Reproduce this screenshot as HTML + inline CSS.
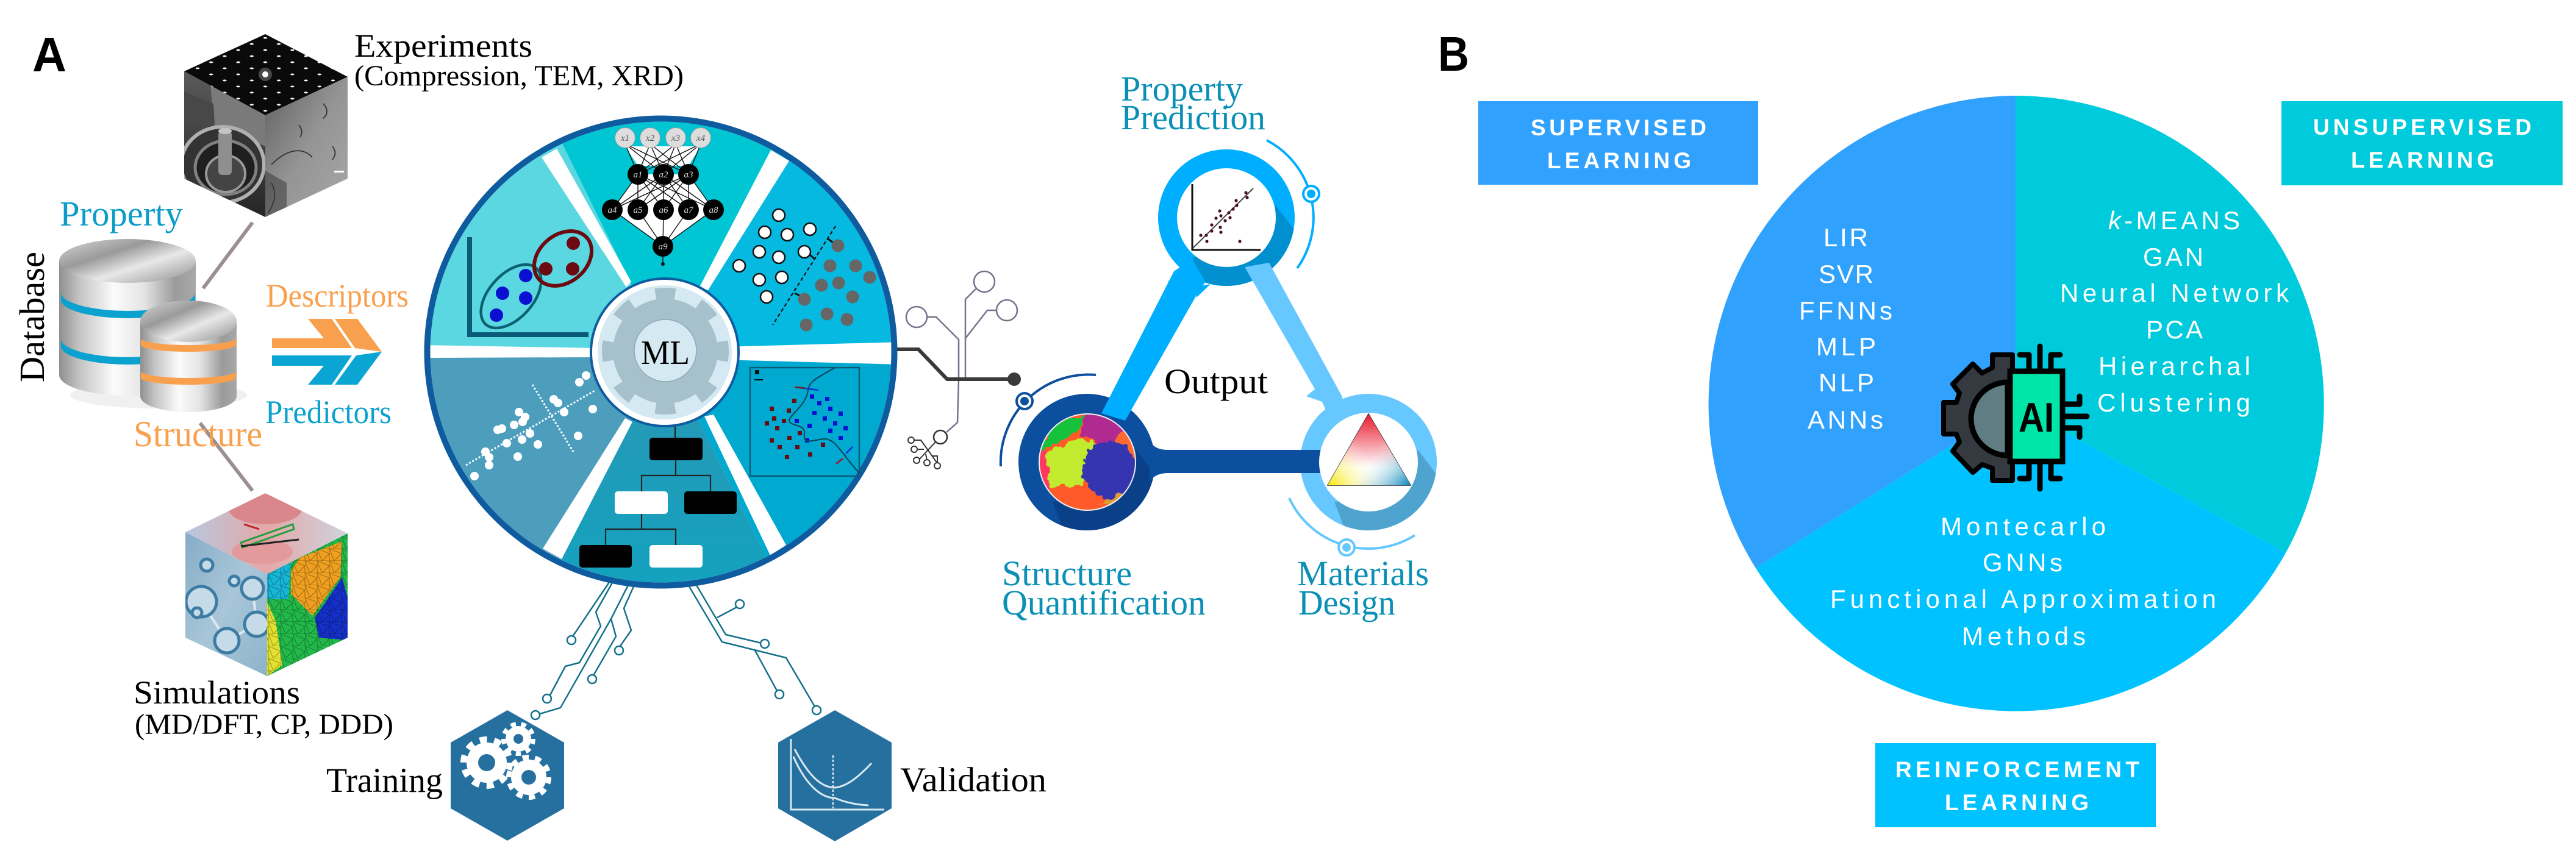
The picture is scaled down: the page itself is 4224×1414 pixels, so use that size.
<!DOCTYPE html>
<html><head><meta charset="utf-8"><title>ML diagram</title>
<style>html,body{margin:0;padding:0;background:#fff;width:4224px;height:1414px;overflow:hidden}svg{display:block}
.s{font-family:"Liberation Serif",serif}.b{font-family:"Liberation Sans",sans-serif;font-weight:bold}.p{font-family:"Liberation Sans",sans-serif;fill:#fff;font-size:42px}.l{font-family:"Liberation Sans",sans-serif;font-weight:bold;fill:#fff;font-size:37px}
.nn{font-family:"Liberation Serif",serif;font-style:italic;font-size:15px;fill:#ddd}.ci{fill:none;stroke:#13708a;stroke-width:2.5}.cc{fill:#fff;stroke:#13708a;stroke-width:2.5}.g{fill:none;stroke:#77708a;stroke-width:2.5}</style></head><body>
<svg xmlns="http://www.w3.org/2000/svg" width="4224" height="1414" viewBox="0 0 4224 1414">
<defs>
<clipPath id="wheel"><circle cx="1083.5" cy="577.5" r="378"/></clipPath>
<clipPath id="topf"><polygon points="435,56 302,117 435,189 570,126"/></clipPath>
<clipPath id="lf"><polygon points="302,117 435,189 435,356 302,293"/></clipPath>
<clipPath id="rf"><polygon points="435,189 570,126 570,293 435,356"/></clipPath>
<clipPath id="simr"><polygon points="438,942 570,875 570,1046 438,1109"/></clipPath>
<clipPath id="siml"><polygon points="304,873 438,942 438,1109 304,1046"/></clipPath>
<clipPath id="simt"><polygon points="435,809 304,873 438,942 570,875"/></clipPath>
<clipPath id="sq"><circle cx="1783" cy="758" r="80"/></clipPath>
<clipPath id="ringc"><circle r="112"/></clipPath>
<filter id="rough" x="-10%" y="-10%" width="120%" height="120%"><feTurbulence type="fractalNoise" baseFrequency=".08" numOctaves="2" seed="4"/><feDisplacementMap in="SourceGraphic" scale="14" xChannelSelector="R" yChannelSelector="G"/></filter>
<linearGradient id="cyl"><stop offset="0" stop-color="#8f8f8f"/><stop offset=".15" stop-color="#c4c4c4"/><stop offset=".4" stop-color="#fbfbfb"/><stop offset=".62" stop-color="#e4e4e4"/><stop offset=".85" stop-color="#9b9b9b"/><stop offset="1" stop-color="#a8a8a8"/></linearGradient>
<linearGradient id="cylt" x1="0" y1="0" x2="1" y2="1"><stop offset="0" stop-color="#d8d8d8"/><stop offset=".35" stop-color="#9a9a9a"/><stop offset=".6" stop-color="#e8e8e8"/><stop offset="1" stop-color="#8c8c8c"/></linearGradient>
<linearGradient id="expR" x1="0" y1="0" x2="1" y2="1"><stop offset="0" stop-color="#5e5e5e"/><stop offset=".5" stop-color="#949494"/><stop offset="1" stop-color="#a8a8a8"/></linearGradient>
<linearGradient id="expL" x1="0" y1="0" x2="0" y2="1"><stop offset="0" stop-color="#5a5a5a"/><stop offset="1" stop-color="#262626"/></linearGradient>
<linearGradient id="simL" x1="0" y1="0" x2="1" y2="1"><stop offset="0" stop-color="#86acc6"/><stop offset=".5" stop-color="#a8c6d8"/><stop offset="1" stop-color="#8db3ca"/></linearGradient>
<linearGradient id="simT" x1="0" y1="0" x2="1" y2="0"><stop offset="0" stop-color="#b8c8e0"/><stop offset=".5" stop-color="#e4a8a8"/><stop offset="1" stop-color="#cfd2de"/></linearGradient>
<linearGradient id="bot" x1="0" y1="0" x2="0" y2="1"><stop offset="0" stop-color="#2a97b4"/><stop offset="1" stop-color="#11a3c0"/></linearGradient>
<linearGradient id="tr1" x1=".5" y1="0" x2=".5" y2="1"><stop offset="0" stop-color="#e8192c"/><stop offset=".75" stop-color="#fff"/></linearGradient>
<linearGradient id="tr2" x1="0" y1="1" x2=".5" y2=".6"><stop offset="0" stop-color="#f8e800"/><stop offset="1" stop-color="#fff" stop-opacity="0"/></linearGradient>
<linearGradient id="tr3" x1="1" y1="1" x2=".5" y2=".6"><stop offset="0" stop-color="#0083b8"/><stop offset="1" stop-color="#fff" stop-opacity="0"/></linearGradient>
<pattern id="spots" width="12" height="12" patternUnits="userSpaceOnUse" patternTransform="matrix(1.85 -.83 1.85 .83 435 122)"><rect width="12" height="12" fill="#0a0a0a"/><circle cx="0" cy="0" r="1.2" fill="#fff"/><circle cx="12" cy="0" r="1.2" fill="#fff"/><circle cx="0" cy="12" r="1.2" fill="#fff"/><circle cx="12" cy="12" r="1.2" fill="#fff"/></pattern>
<pattern id="mesh" width="20" height="20" patternUnits="userSpaceOnUse"><path d="M0,0L20,8L8,20ZM20,8L20,20L8,20M0,0V20H8" fill="none" stroke="#000" stroke-opacity=".35" stroke-width="1"/></pattern>
</defs>
<rect width="4224" height="1414" fill="#fff"/>

<text class="b" x="53" y="117" font-size="80" textLength="56" lengthAdjust="spacingAndGlyphs">A</text>
<text class="b" x="2358" y="116" font-size="80" textLength="51" lengthAdjust="spacingAndGlyphs">B</text>

<!-- Experiments cube -->
<polygon points="435,56 302,117 435,189 570,126" fill="url(#spots)"/>
<g clip-path="url(#topf)"><circle cx="435" cy="122" r="5" fill="#fff"/><circle cx="435" cy="122" r="11" fill="#fff" opacity=".25"/></g>
<polygon points="302,117 435,189 435,356 302,293" fill="url(#expL)"/>
<g clip-path="url(#lf)">
<polygon points="345,135 435,185 435,240 350,205" fill="#7a7a7a"/>
<polygon points="302,150 350,170 352,205 302,190" fill="#484848"/>
<ellipse cx="365" cy="270" rx="68" ry="62" fill="#333" stroke="#b0b0b0" stroke-width="6"/>
<ellipse cx="370" cy="275" rx="50" ry="44" fill="#1f1f1f" stroke="#808080" stroke-width="5"/>
<ellipse cx="370" cy="285" rx="32" ry="30" fill="#444" stroke="#999" stroke-width="4"/>
<rect x="358" y="215" width="22" height="72" rx="6" fill="#8f8f8f"/>
<ellipse cx="369" cy="215" rx="11" ry="5" fill="#c4c4c4"/>
</g>
<polygon points="435,189 570,126 570,293 435,356" fill="url(#expR)"/>
<g clip-path="url(#rf)" fill="none" stroke="#333" stroke-width="1.8">
<path d="M445,270C470,245 495,240 512,258"/>
<path d="M530,170c8,8 8,18 0,24M545,240c6,8 6,14 0,22M490,205c6,8 6,14 2,20M445,300c8,14 8,30 -6,50"/>
<polygon points="435,280 470,300 470,340 435,356" fill="#333" stroke="none" opacity=".5"/>
<rect x="548" y="280" width="16" height="3" fill="#fff" stroke="none"/>
</g>
<text class="s" x="581" y="93" font-size="54" textLength="292" lengthAdjust="spacingAndGlyphs">Experiments</text>
<text class="s" x="581" y="140" font-size="48" textLength="540" lengthAdjust="spacingAndGlyphs">(Compression, TEM, XRD)</text>
<line x1="414" y1="365" x2="333" y2="473" stroke="#9b8f92" stroke-width="6"/>
<line x1="328" y1="694" x2="414" y2="805" stroke="#9b8f92" stroke-width="6"/>

<!-- Database -->
<ellipse cx="260" cy="648" rx="145" ry="22" fill="#bbb" opacity=".22"/>
<path d="M97,428V615A112,34 0 0 0 321,615V428Z" fill="url(#cyl)"/>
<path d="M100,480A110,30 0 0 0 320,480V492A110,30 0 0 1 100,492Z" fill="#0ba2cf"/>
<path d="M100,556A110,30 0 0 0 320,556V568A110,30 0 0 1 100,568Z" fill="#0ba2cf"/>
<ellipse cx="209" cy="428" rx="112" ry="36" fill="url(#cylt)"/>
<path d="M230,527V650A79,26 0 0 0 388,650V527Z" fill="url(#cyl)"/>
<path d="M231,556A79,12 0 0 0 387,556V567A79,12 0 0 1 231,567Z" fill="#f9a04e"/>
<path d="M231,610A79,12 0 0 0 387,610V621A79,12 0 0 1 231,621Z" fill="#f9a04e"/>
<ellipse cx="309" cy="527" rx="79" ry="34" fill="url(#cylt)"/>
<text class="s" x="98" y="370" font-size="58" fill="#0b9cc8" textLength="202" lengthAdjust="spacingAndGlyphs">Property</text>
<text class="s" transform="translate(72,627) rotate(-90)" font-size="58" textLength="214" lengthAdjust="spacingAndGlyphs">Database</text>
<text class="s" x="219" y="732" font-size="60" fill="#f9a04e" textLength="211" lengthAdjust="spacingAndGlyphs">Structure</text>

<!-- Arrows -->
<polygon points="505,523 544,523 577,571 446,571 446,555 531,555" fill="#f9a04e"/>
<polygon points="549,523 586,523 626,577 582,571" fill="#f9a04e"/>
<polygon points="446,583 577,583 544,631 505,631 531,600 446,600" fill="#0ba5d3"/>
<polygon points="584,583 626,577 586,631 549,631" fill="#0ba5d3"/>
<text class="s" x="436" y="503" font-size="54" fill="#f9a04e" textLength="234" lengthAdjust="spacingAndGlyphs">Descriptors</text>
<text class="s" x="435" y="694" font-size="54" fill="#0ba2cf" textLength="207" lengthAdjust="spacingAndGlyphs">Predictors</text>

<!-- Simulation cube -->
<polygon points="435,809 304,873 438,942 570,875" fill="url(#simT)"/>
<g clip-path="url(#simt)">
<ellipse cx="435" cy="835" rx="60" ry="25" fill="#d9878a"/>
<ellipse cx="430" cy="905" rx="50" ry="20" fill="#e29a9a"/>
<polygon points="395,890 480,860 482,868 398,898" fill="none" stroke="#20a040" stroke-width="3"/>
<line x1="395" y1="896" x2="490" y2="885" stroke="#222" stroke-width="3"/>
<line x1="400" y1="860" x2="425" y2="868" stroke="#c02020" stroke-width="3"/>
</g>
<polygon points="304,873 438,942 438,1109 304,1046" fill="url(#simL)"/>
<g clip-path="url(#siml)" fill="#c5dbe8" stroke="#3d7ca3" stroke-width="5">
<line x1="330" y1="987" x2="372" y2="1051" stroke-width="4" stroke="#dbe8f0"/><line x1="372" y1="1051" x2="421" y2="1024" stroke-width="4" stroke="#dbe8f0"/><line x1="421" y1="1024" x2="414" y2="965" stroke-width="4" stroke="#dbe8f0"/>
<circle cx="330" cy="987" r="25"/><circle cx="372" cy="1051" r="20"/><circle cx="414" cy="965" r="18"/><circle cx="421" cy="1024" r="20"/><circle cx="339" cy="927" r="10"/><circle cx="384" cy="953" r="8"/><circle cx="323" cy="1005" r="8"/>
</g>
<polygon points="438,942 570,875 570,1046 438,1109" fill="#22b84a"/>
<g clip-path="url(#simr)">
<polygon points="438,942 477,915 473,983 438,983" fill="#17b6d6"/>
<polygon points="477,938 491,915 561,888 558,947 512,1010 477,974" fill="#f0a020"/>
<polygon points="561,947 516,1014 523,1046 570,1050 570,980" fill="#1530c8"/>
<polygon points="438,987 452,1019 463,1091 438,1109" fill="#e4e030"/>
<rect x="438" y="875" width="132" height="234" fill="url(#mesh)"/>
</g>
<text class="s" x="219" y="1154" font-size="54" textLength="273" lengthAdjust="spacingAndGlyphs">Simulations</text>
<text class="s" x="221" y="1204" font-size="48" textLength="424" lengthAdjust="spacingAndGlyphs">(MD/DFT, CP, DDD)</text>

<!-- Wheel -->
<circle cx="1083.5" cy="577.5" r="388" fill="#0f5b9f"/>
<circle cx="1083.5" cy="577.5" r="378" fill="#fff"/>
<g clip-path="url(#wheel)">
<polygon points="1090,578 680,577 680,150 880,150" fill="#5ad7e0"/>
<polygon points="1090,578 880,150 1320,150" fill="#00c6d4"/>
<polygon points="1090,578 1320,150 1490,150 1490,580" fill="#05b9e0"/>
<polygon points="1090,578 1490,580 1490,1000 1300,1000" fill="#00a9cf"/>
<polygon points="1090,578 1300,1000 880,1000" fill="url(#bot)"/>
<polygon points="1090,578 880,1000 680,1000 680,577" fill="#4d9dbd"/>
<polygon points="690,566 690,587 980,586 980,571" fill="#fff"/>
<polygon points="888,258 913,244 1035,462 1027,471" fill="#fff"/>
<polygon points="1264,246 1294,264 1161,476 1147,471" fill="#fff"/>
<polygon points="1180,569 1480,561 1480,598 1180,590" fill="#fff"/>
<polygon points="1155,683 1170,680 1289,894 1263,911" fill="#fff"/>
<polygon points="1025,686 1037,692 921,917 890,900" fill="#fff"/>
</g>

<!-- UL slice -->
<path d="M770,389V549H965" fill="none" stroke="#0a5a78" stroke-width="8"/>
<ellipse cx="838" cy="486" rx="62" ry="36" transform="rotate(-48 838 486)" fill="none" stroke="#0a6170" stroke-width="4.5"/>
<ellipse cx="923" cy="424" rx="52" ry="39" transform="rotate(-40 923 424)" fill="none" stroke="#6b0a10" stroke-width="6"/>
<g fill="#0a0fd0"><circle cx="862" cy="452" r="11"/><circle cx="824" cy="481" r="11"/><circle cx="862" cy="489" r="11"/><circle cx="814" cy="517" r="11"/></g>
<g fill="#6b0a10"><circle cx="940" cy="399" r="11"/><circle cx="895" cy="441" r="11"/><circle cx="939" cy="441" r="11"/></g>

<!-- NN -->
<polygon points="1025,240 1149,240 1129,272 1046,272" fill="#fff"/>
<polygon points="1046,286 1129,286 1170,344 1004,344" fill="#fff"/>
<polygon points="1004,344 1170,344 1087,404" fill="#fff"/>
<g stroke="#111" stroke-width="1.4">
<path d="M1025,236L1046,286M1025,236L1088,286M1025,236L1129,286M1066,236L1046,286M1066,236L1088,286M1066,236L1129,286M1108,236L1046,286M1108,236L1088,286M1108,236L1129,286M1149,236L1046,286M1149,236L1088,286M1149,236L1129,286"/>
<path d="M1046,286L1004,344M1046,286L1046,344M1046,286L1088,344M1046,286L1129,344M1046,286L1170,344M1088,286L1004,344M1088,286L1046,344M1088,286L1088,344M1088,286L1129,344M1088,286L1170,344M1129,286L1004,344M1129,286L1046,344M1129,286L1088,344M1129,286L1129,344M1129,286L1170,344"/>
<path d="M1004,344L1087,404M1046,344L1087,404M1088,344L1087,404M1129,344L1087,404M1170,344L1087,404M1087,404V436"/>
</g>
<circle cx="1087" cy="433" r="3" fill="#111"/>
<g fill="#ddd" stroke="#999" stroke-width="1"><circle cx="1025" cy="226" r="16.5"/><circle cx="1066" cy="226" r="16.5"/><circle cx="1108" cy="226" r="16.5"/><circle cx="1149" cy="226" r="16.5"/></g>
<g><circle cx="1046" cy="286" r="17"/><circle cx="1088" cy="286" r="17"/><circle cx="1129" cy="286" r="17"/><circle cx="1004" cy="344" r="17"/><circle cx="1046" cy="344" r="17"/><circle cx="1088" cy="344" r="17"/><circle cx="1129" cy="344" r="17"/><circle cx="1170" cy="344" r="17"/><circle cx="1087" cy="404" r="17"/></g>
<g class="nn" text-anchor="middle" style="fill:#555"><text x="1025" y="231">x1</text><text x="1066" y="231">x2</text><text x="1108" y="231">x3</text><text x="1149" y="231">x4</text></g>
<g class="nn" text-anchor="middle"><text x="1046" y="291">a1</text><text x="1088" y="291">a2</text><text x="1129" y="291">a3</text><text x="1004" y="349">a4</text><text x="1046" y="349">a5</text><text x="1088" y="349">a6</text><text x="1129" y="349">a7</text><text x="1170" y="349">a8</text><text x="1087" y="409">a9</text></g>

<!-- UR slice -->
<line x1="1370" y1="371" x2="1267" y2="533" stroke="#111" stroke-width="2.2" stroke-dasharray="6 4"/>
<path d="M1358,392l8,6M1327,417l9,8M1303,481l9,4" stroke="#111" stroke-width="3"/>
<g fill="#fff" stroke="#111" stroke-width="2.5"><circle cx="1277" cy="353" r="10"/><circle cx="1254" cy="381" r="10"/><circle cx="1291" cy="385" r="10"/><circle cx="1328" cy="376" r="10"/><circle cx="1245" cy="413" r="10"/><circle cx="1277" cy="422" r="10"/><circle cx="1319" cy="413" r="10"/><circle cx="1212" cy="436" r="10"/><circle cx="1245" cy="459" r="10"/><circle cx="1282" cy="455" r="10"/><circle cx="1257" cy="487" r="10"/></g>
<g fill="#666"><circle cx="1374" cy="403" r="10.5"/><circle cx="1361" cy="436" r="10.5"/><circle cx="1403" cy="436" r="10.5"/><circle cx="1426" cy="455" r="10.5"/><circle cx="1347" cy="468" r="10.5"/><circle cx="1375" cy="464" r="10.5"/><circle cx="1398" cy="487" r="10.5"/><circle cx="1319" cy="491" r="10.5"/><circle cx="1356" cy="515" r="10.5"/><circle cx="1389" cy="524" r="10.5"/><circle cx="1322" cy="533" r="10.5"/></g>

<!-- LR slice -->
<rect x="1230" y="603" width="179" height="178" fill="none" stroke="#0a5c7a" stroke-width="2.5"/>
<rect x="1238" y="607" width="7" height="7" fill="#111"/><line x1="1237" y1="623" x2="1251" y2="623" stroke="#111" stroke-width="2"/>
<g fill="#6b0a10"><rect x="1299" y="654" width="7" height="7"/><rect x="1262" y="667" width="7" height="7"/><rect x="1290" y="670" width="7" height="7"/><rect x="1266" y="683" width="7" height="7"/><rect x="1282" y="687" width="7" height="7"/><rect x="1254" y="691" width="7" height="7"/><rect x="1271" y="699" width="7" height="7"/><rect x="1308" y="707" width="7" height="7"/><rect x="1291" y="715" width="7" height="7"/><rect x="1262" y="719" width="7" height="7"/><rect x="1275" y="730" width="7" height="7"/><rect x="1304" y="730" width="7" height="7"/><rect x="1346" y="726" width="7" height="7"/><rect x="1325" y="742" width="7" height="7"/><rect x="1287" y="746" width="7" height="7"/></g>
<g fill="#0a0fd0"><rect x="1328" y="647" width="7" height="7"/><rect x="1340" y="658" width="7" height="7"/><rect x="1353" y="651" width="7" height="7"/><rect x="1358" y="667" width="7" height="7"/><rect x="1332" y="674" width="7" height="7"/><rect x="1375" y="675" width="7" height="7"/><rect x="1349" y="683" width="7" height="7"/><rect x="1303" y="687" width="7" height="7"/><rect x="1366" y="691" width="7" height="7"/><rect x="1324" y="695" width="7" height="7"/><rect x="1383" y="699" width="7" height="7"/><rect x="1358" y="703" width="7" height="7"/><rect x="1375" y="715" width="7" height="7"/><rect x="1320" y="719" width="7" height="7"/></g>
<path d="M1369,603C1340,620 1327,625 1325,640C1322,665 1295,680 1294,690C1296,700 1322,695 1319,712C1316,730 1335,722 1350,720C1370,718 1380,745 1409,776" fill="none" stroke="#0a4a60" stroke-width="2.2"/>
<path d="M1304,635l16,2" stroke="#7a1020" stroke-width="2.5"/><path d="M1320,637l22,3" stroke="#1030d0" stroke-width="2.5"/>
<path d="M1398,733l-11,11" stroke="#1030d0" stroke-width="2.5"/><path d="M1382,752l-11,9" stroke="#a01020" stroke-width="2.5"/>

<!-- Bottom slice flowchart -->
<g fill="none" stroke="#222" stroke-width="2.2"><path d="M1107,698V718M1108,755V780M1052,806V780H1165V806M1052,843V868M993,894V868H1108V894"/></g>
<rect x="1065" y="718" width="87" height="37" rx="5" fill="#000"/>
<rect x="1008" y="806" width="87" height="37" rx="5" fill="#fff"/>
<rect x="1122" y="806" width="86" height="37" rx="5" fill="#000"/>
<rect x="950" y="894" width="86" height="37" rx="5" fill="#000"/>
<rect x="1065" y="894" width="87" height="37" rx="5" fill="#fff"/>

<!-- LL slice -->
<path d="M764,763L975,641M873,631L940,741" stroke="#fff" stroke-width="3" stroke-dasharray="3 3" fill="none"/>
<g fill="#fff"><circle cx="961" cy="616" r="7"/><circle cx="950" cy="627" r="7"/><circle cx="908" cy="655" r="7"/><circle cx="915" cy="661" r="7"/><circle cx="972" cy="671" r="7"/><circle cx="925" cy="676" r="7"/><circle cx="851" cy="676" r="7"/><circle cx="861" cy="684" r="7"/><circle cx="857" cy="692" r="7"/><circle cx="843" cy="697" r="7"/><circle cx="823" cy="703" r="7"/><circle cx="816" cy="705" r="7"/><circle cx="869" cy="711" r="7"/><circle cx="831" cy="727" r="7"/><circle cx="856" cy="721" r="7"/><circle cx="882" cy="729" r="7"/><circle cx="948" cy="715" r="7"/><circle cx="796" cy="741" r="7"/><circle cx="802" cy="750" r="7"/><circle cx="849" cy="749" r="7"/><circle cx="802" cy="763" r="7"/><circle cx="778" cy="781" r="7"/></g>

<!-- Hub -->
<circle cx="1090" cy="578" r="121" fill="#fff" stroke="#0f5b9f" stroke-width="4"/>
<circle cx="1090" cy="578" r="110" fill="#d4e9f2"/>
<circle cx="1091" cy="576" r="86" fill="#a6c1cc"/>
<circle cx="1091" cy="576" r="94" fill="none" stroke="#a6c1cc" stroke-width="20" stroke-dasharray="32 41.8" stroke-dashoffset="16"/>
<circle cx="1091" cy="575" r="51" fill="#d4e9f2" stroke="#8fa9b4" stroke-width="1.5"/>
<text class="s" x="1051" y="597" font-size="56" textLength="80" lengthAdjust="spacingAndGlyphs">ML</text>

<!-- Right connector -->
<path d="M1583,622V491L1600,474M1583,555L1619,509H1634M1572,622V557L1535,520H1520M1572,622L1570,693L1552,709" class="g"/>
<g fill="#fff" stroke="#77708a" stroke-width="2.5"><circle cx="1614" cy="462" r="17"/><circle cx="1651" cy="509" r="17"/><circle cx="1503" cy="520" r="17"/></g>
<circle cx="1542" cy="717" r="11" fill="#fff" stroke="#333" stroke-width="2.5"/>
<path d="M1535,724L1506,755M1499,722H1510L1537,760M1503,737H1515M1518,745L1520,755M1528,748H1537V760" fill="none" stroke="#333" stroke-width="2"/>
<g fill="#fff" stroke="#333" stroke-width="2"><circle cx="1494" cy="722" r="5"/><circle cx="1499" cy="737" r="5"/><circle cx="1503" cy="755" r="5"/><circle cx="1520" cy="759" r="5"/><circle cx="1537" cy="764" r="5"/></g>
<path d="M1471,573H1506L1553,622H1661" fill="none" stroke="#3a3a3a" stroke-width="6"/>
<circle cx="1663" cy="622" r="11" fill="#3a3a3a"/>

<!-- Output triangle -->
<g transform="translate(1782,758)"><circle r="112" fill="#0b4f9e"/><g clip-path="url(#ringc)"><polygon points="81,-20 129,43 49,133 -34,123 -56,65 0,63" fill="#0a4088"/></g></g>
<g transform="translate(2011,357)"><circle r="112" fill="#00aeff"/><g clip-path="url(#ringc)"><polygon points="81,-20 129,43 49,133 -34,123 -56,65 0,63" fill="#0090d0"/></g></g>
<g transform="translate(2244,758)"><circle r="112" fill="#66c8ff"/><g clip-path="url(#ringc)"><polygon points="81,-20 129,43 49,133 -34,123 -56,65 0,63" fill="#4fa3cf"/></g></g>
<polygon points="1806,678 1925,445 1955,425 1977,463 1970,470 1845,690" fill="#00aeff"/>
<polygon points="2041,438 2081,431 2200,649 2212,682 2182,692 2168,659" fill="#66c8ff"/>
<path d="M1915,462L1934,449L1940,470Z M1962,470L1985,466L1962,488Z" fill="#00aeff"/>
<path d="M2142,650L2168,659L2160,635Z" fill="#66c8ff"/>
<path d="M1885,722Q1892,738 1915,738H1885ZM1885,792Q1892,776 1915,776H1885Z" fill="#0b4f9e"/>
<rect x="1885" y="738" width="285" height="38" fill="#0b4f9e"/>
<!-- images -->
<circle cx="2011" cy="357" r="81" fill="#fff"/>
<circle cx="2244" cy="758" r="81" fill="#fff"/>
<circle cx="1783" cy="758" r="80" fill="#ff5a2a"/>
<g clip-path="url(#sq)"><g filter="url(#rough)">
<polygon points="1704,736 1724,695 1781,680 1765,709 1709,740" fill="#16c23a"/>
<polygon points="1781,676 1840,685 1862,718 1806,731 1770,713" fill="#b02a90"/>
<polygon points="1840,700 1870,720 1860,745 1825,730" fill="#ff6a30"/>
<polygon points="1709,745 1770,718 1804,731 1781,762 1776,798 1735,798 1722,803" fill="#c2ea2e"/>
<polygon points="1695,740 1714,740 1722,803 1695,800" fill="#ff3860"/>
<ellipse cx="1819" cy="771" rx="44" ry="47" fill="#3534b0"/>
<polygon points="1806,825 1846,805 1836,835" fill="#e09a30"/>
</g></g>
<circle cx="1783" cy="758" r="79" fill="none" stroke="#e8eef4" stroke-width="2"/>
<!-- chart -->
<path d="M1955,302V410H2067" fill="none" stroke="#111" stroke-width="3"/>
<line x1="1956" y1="407" x2="2055" y2="309" stroke="#444" stroke-width="2"/>
<g fill="#4a1020"><circle cx="1969" cy="386" r="2.6"/><circle cx="1978" cy="386" r="2.6"/><circle cx="1979" cy="396" r="2.6"/><circle cx="1987" cy="369" r="2.6"/><circle cx="1987" cy="379" r="2.6"/><circle cx="1994" cy="358" r="2.6"/><circle cx="2000" cy="346" r="2.6"/><circle cx="2002" cy="354" r="2.6"/><circle cx="2001" cy="373" r="2.6"/><circle cx="2002" cy="381" r="2.6"/><circle cx="2009" cy="362" r="2.6"/><circle cx="2017" cy="357" r="2.6"/><circle cx="2015" cy="349" r="2.6"/><circle cx="2022" cy="343" r="2.6"/><circle cx="2028" cy="337" r="2.6"/><circle cx="2027" cy="329" r="2.6"/><circle cx="2043" cy="316" r="2.6"/><circle cx="2045" cy="324" r="2.6"/><circle cx="2033" cy="396" r="2.6"/></g>
<!-- triangle -->
<polygon points="2244,679 2177,796 2313,796" fill="#fff" stroke="#222" stroke-width="1.5"/>
<polygon points="2244,679 2177,796 2313,796" fill="url(#tr1)"/>
<polygon points="2244,679 2177,796 2313,796" fill="url(#tr2)"/>
<polygon points="2244,679 2177,796 2313,796" fill="url(#tr3)"/>
<!-- arcs -->
<path d="M2077,230A143,143 0 0 1 2127,440" fill="none" stroke="#00aeff" stroke-width="4"/>
<circle cx="2150" cy="318" r="13" fill="#fff" stroke="#00aeff" stroke-width="4"/><circle cx="2150" cy="318" r="7" fill="#00aeff"/>
<path d="M1797,615A144,144 0 0 0 1641,765" fill="none" stroke="#0b4f9e" stroke-width="4"/>
<circle cx="1680" cy="658" r="13" fill="#fff" stroke="#0b4f9e" stroke-width="4"/><circle cx="1680" cy="658" r="7" fill="#0b4f9e"/>
<path d="M2114,817A143,143 0 0 0 2320,878" fill="none" stroke="#66c8ff" stroke-width="4"/>
<circle cx="2208" cy="898" r="13" fill="#fff" stroke="#66c8ff" stroke-width="4"/><circle cx="2208" cy="898" r="7" fill="#66c8ff"/>

<text class="s" x="1909" y="645" font-size="58" textLength="170" lengthAdjust="spacingAndGlyphs">Output</text>
<g class="s" fill="#0a8fb5" font-size="58">
<text x="1838" y="165" textLength="200" lengthAdjust="spacingAndGlyphs">Property</text>
<text x="1838" y="212" textLength="237" lengthAdjust="spacingAndGlyphs">Prediction</text>
<text x="1643" y="960" textLength="213" lengthAdjust="spacingAndGlyphs">Structure</text>
<text x="1643" y="1008" textLength="334" lengthAdjust="spacingAndGlyphs">Quantification</text>
<text x="2127" y="960" textLength="216" lengthAdjust="spacingAndGlyphs">Materials</text>
<text x="2129" y="1008" textLength="159" lengthAdjust="spacingAndGlyphs">Design</text>
</g>

<!-- Circuit lines -->
<g class="ci">
<path d="M999,955L939,1044"/><path d="M1004,956L977,1004L985,1027L950,1087L927,1093L901,1142"/><path d="M1030,960L1002,1015L919,1161L885,1171"/><path d="M1002,1015L1010,1044L973,1108"/><path d="M1039,962L1023,998L1035,1034L1016,1061"/>
<path d="M1130,962L1184,1053L1289,1079L1336,1159"/><path d="M1142,960L1190,1041L1249,1055"/><path d="M1176,1013L1208,996"/><path d="M1237,1065L1274,1133"/>
</g>
<g class="cc"><circle cx="937" cy="1050" r="7"/><circle cx="897" cy="1146" r="7"/><circle cx="878" cy="1173" r="7"/><circle cx="971" cy="1114" r="7"/><circle cx="1015" cy="1067" r="7"/><circle cx="1339" cy="1165" r="7"/><circle cx="1254" cy="1056" r="7"/><circle cx="1213" cy="991" r="7"/><circle cx="1278" cy="1139" r="7"/></g>

<!-- Hexagons -->
<polygon points="832,1165 925,1218 925,1326 832,1379 739,1326 739,1218" fill="#25709f"/>
<g fill="#fff">
<circle cx="798" cy="1251" r="33"/><circle cx="850" cy="1212" r="21"/><circle cx="867" cy="1275" r="29"/></g>
<g fill="none" stroke="#fff"><circle cx="798" cy="1251" r="38" stroke-width="10" stroke-dasharray="12 11.9"/><circle cx="850" cy="1212" r="24.5" stroke-width="7" stroke-dasharray="8.5 8.6"/><circle cx="867" cy="1275" r="33" stroke-width="8" stroke-dasharray="10.4 10.3"/></g>
<g fill="#25709f"><circle cx="798" cy="1251" r="14"/><circle cx="850" cy="1212" r="8"/><circle cx="867" cy="1275" r="12"/></g>
<text class="s" x="535" y="1299" font-size="57" textLength="191" lengthAdjust="spacingAndGlyphs">Training</text>
<polygon points="1369,1165 1462,1218 1462,1326 1369,1380 1276,1326 1276,1218" fill="#25709f"/>
<path d="M1297,1212V1328H1450" fill="none" stroke="#d8e8f0" stroke-width="3"/>
<path d="M1303,1229C1325,1270 1345,1292 1369,1292C1390,1290 1410,1272 1429,1252M1301,1241C1320,1285 1345,1309 1369,1309C1385,1316 1405,1320 1424,1321" fill="none" stroke="#d8e8f0" stroke-width="3"/>
<line x1="1366" y1="1239" x2="1366" y2="1326" stroke="#d8e8f0" stroke-width="2.5" stroke-dasharray="4 3"/>
<text class="s" x="1476" y="1298" font-size="57" textLength="240" lengthAdjust="spacingAndGlyphs">Validation</text>

<!-- Panel B -->
<rect x="2424" y="166" width="459" height="137" fill="#30a2fd"/>
<rect x="3741" y="166" width="461" height="138" fill="#00cbdc"/>
<rect x="3075" y="1219" width="460" height="138" fill="#00c2ff"/>
<text class="l" x="2510" y="222" textLength="288" lengthAdjust="spacing">SUPERVISED</text>
<text class="l" x="2537" y="276" textLength="236" lengthAdjust="spacing">LEARNING</text>
<text class="l" x="3793" y="221" textLength="358" lengthAdjust="spacing">UNSUPERVISED</text>
<text class="l" x="3855" y="275" textLength="235" lengthAdjust="spacing">LEARNING</text>
<text class="l" x="3108" y="1275" textLength="400" lengthAdjust="spacing">REINFORCEMENT</text>
<text class="l" x="3189" y="1329" textLength="236" lengthAdjust="spacing">LEARNING</text>

<path d="M3305,665L2879,932A506,506 0 0 1 3305,157Z" fill="#30a2fd"/>
<path d="M3305,665V157A506,506 0 0 1 3748,907Z" fill="#00cbdc"/>
<path d="M3305,665L3748,907A506,506 0 0 1 2879,932Z" fill="#00c2ff"/>

<text class="p" x="2990" y="404" textLength="73" lengthAdjust="spacing">LIR</text>
<text class="p" x="2982" y="464" textLength="90" lengthAdjust="spacing">SVR</text>
<text class="p" x="2950" y="524" textLength="153" lengthAdjust="spacing">FFNNs</text>
<text class="p" x="2978" y="583" textLength="98" lengthAdjust="spacing">MLP</text>
<text class="p" x="2982" y="642" textLength="91" lengthAdjust="spacing">NLP</text>
<text class="p" x="2964" y="703" textLength="124" lengthAdjust="spacing">ANNs</text>
<text class="p" x="3457" y="376" textLength="216" lengthAdjust="spacing"><tspan font-style="italic">k</tspan>-MEANS</text>
<text class="p" x="3514" y="436" textLength="99" lengthAdjust="spacing">GAN</text>
<text class="p" x="3378" y="495" textLength="375" lengthAdjust="spacing">Neural Network</text>
<text class="p" x="3519" y="555" textLength="93" lengthAdjust="spacing">PCA</text>
<text class="p" x="3441" y="615" textLength="249" lengthAdjust="spacing">Hierarchal</text>
<text class="p" x="3439" y="675" textLength="251" lengthAdjust="spacing">Clustering</text>
<text class="p" x="3182" y="878" textLength="271" lengthAdjust="spacing">Montecarlo</text>
<text class="p" x="3251" y="937" textLength="131" lengthAdjust="spacing">GNNs</text>
<text class="p" x="3001" y="997" textLength="633" lengthAdjust="spacing">Functional Approximation</text>
<text class="p" x="3217" y="1058" textLength="203" lengthAdjust="spacing">Methods</text>

<!-- AI icon -->
<g stroke="#000" stroke-width="9" stroke-linecap="round" stroke-linejoin="round" fill="none">
<path d="M3345,568V605M3312,582H3327V605M3378,582H3363V605"/>
<path d="M3345,762V802M3312,785H3327V762M3378,785H3363V762"/>
<path d="M3387,683H3422M3387,663H3410V650M3387,702H3410V717"/>
</g>
<polygon points="3300,582 3267,582 3267,603 3250,612 3235,597 3202,630 3213,645 3208,660 3187,660 3187,712 3208,712 3213,725 3202,740 3235,775 3250,762 3267,768 3267,788 3300,788" fill="#353a40" stroke="#000" stroke-width="8" stroke-linejoin="round"/>
<path d="M3292,627A60,60 0 0 0 3292,747Z" fill="#607d84" stroke="#000" stroke-width="9"/>
<rect x="3296" y="609" width="86" height="148" fill="#00e6a8" stroke="#000" stroke-width="9"/>
<text class="b" x="3310" y="708" font-size="68" textLength="58" lengthAdjust="spacingAndGlyphs">AI</text>
</svg>
</body></html>
